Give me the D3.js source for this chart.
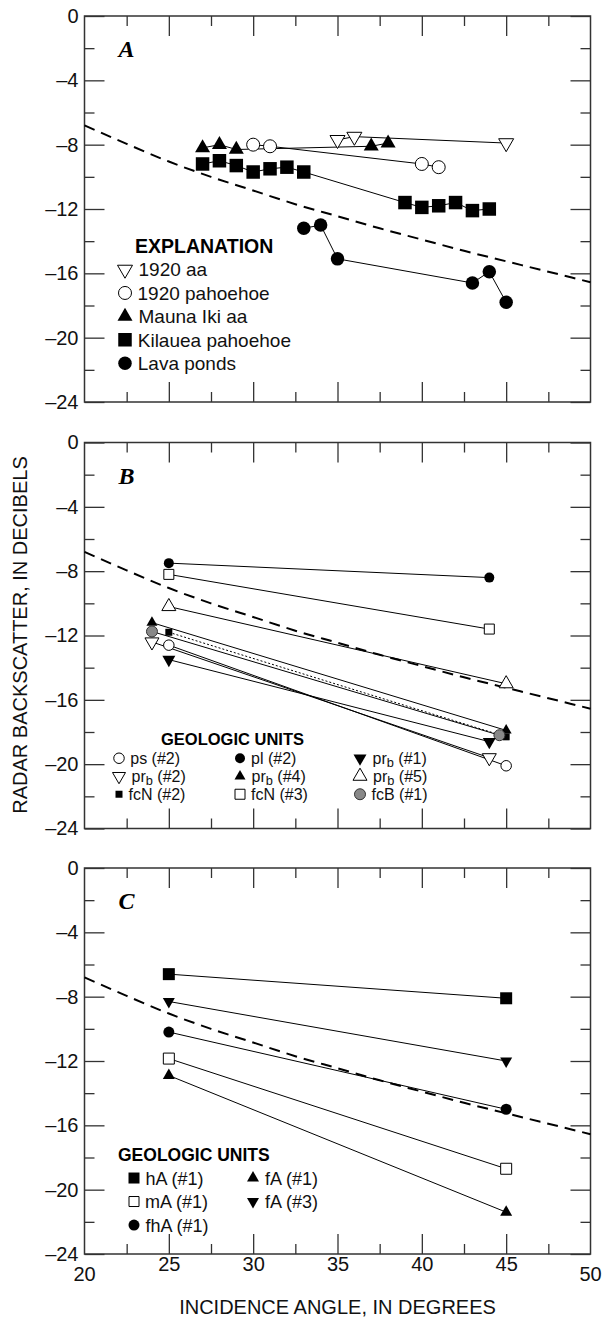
<!DOCTYPE html>
<html>
<head>
<meta charset="utf-8">
<script src="https://cdn.jsdelivr.net/npm/d3@7"></script>
<style>
  body { margin: 0; background: #fff; }
  svg { display: block; font-family: "Liberation Sans", Arial, sans-serif; }
</style>
</head>
<body>
<div id="chart"></div>
<script>
// axis ticks
const xMajor = [20, 25, 30, 35, 40, 45, 50];
const xMinor = [22.5, 27.5, 32.5, 37.5, 42.5, 47.5];
const yMajor = [0, -4, -8, -12, -16, -20, -24];
const yMinor = [-2, -6, -10, -14, -18, -22];

// dashed reference curve (same in every panel)
const refAngles = [20, 22.5, 25, 27.5, 30, 32.5, 35, 37.5, 40, 42.5, 45, 47.5, 50];
const refValues = [-6.8, -7.95, -9.05, -10.0, -10.85, -11.7, -12.45, -13.2, -13.9, -14.6, -15.25, -15.9, -16.55];

// panel A  [angle, dB]
const aa1920 = [[35, -7.7], [36, -7.5], [45, -7.9]];
const pahoehoe1920 = [[30, -8.0], [31, -8.1], [40, -9.2], [41, -9.4]];
const maunaIkiAa = [[27, -8.2], [28, -8.0], [29, -8.3], [37, -8.1], [38, -7.9]];
const kilaueaPahoehoe = [[27, -9.2], [28, -9.0], [29, -9.3], [30, -9.7], [31, -9.5], [32, -9.4], [33, -9.7],
  [39, -11.6], [40, -11.9], [41, -11.8], [42, -11.6], [43, -12.1], [44, -12.0]];
const lavaPonds = [[33, -13.2], [34, -13.0], [35, -15.1], [43, -16.6], [44, -15.9], [45, -17.8]];

// panel B
const ps2 = [[25, -12.6], [45, -20.1]];
const pl2 = [[25, -7.5], [44, -8.4]];
const prb1 = [[25, -13.5], [44, -18.6]];
const prb2 = [[24, -12.4], [44, -19.6]];
const prb4 = [[24, -11.2], [45, -17.9]];
const prb5 = [[25, -10.2], [45, -15.0]];
const fcN2 = [[25, -11.8], [45, -18.3]];
const fcN3 = [[25, -8.2], [44, -11.6]];
const fcB1 = [[24, -11.75], [44.6, -18.2]];

// panel C
const hA1 = [[25, -6.6], [45, -8.1]];
const mA1 = [[25, -11.85], [45, -18.7]];
const fhA1 = [[25, -10.2], [45, -15.0]];
const fA1 = [[25, -12.9], [45, -21.4]];
const fA3 = [[25, -8.3], [45, -12.0]];

const width = 604,
  height = 1319;

const left = 84.5,
  right = 590.5,
  panelH = 386;
const panelTops = [16, 442.5, 868];

const x = d3.scaleLinear().domain([20, 50]).range([left, right]);

const svg = d3.select('#chart').append('svg').attr('width', width).attr('height', height);

const fmt = d => (d === 0 ? '0' : '\u2013' + Math.abs(d));

const shapes = {
  circle: d3.symbolCircle,
  square: d3.symbolSquare,
  up: d3.symbolTriangle,
  down: d3.symbolTriangle
};

function symbolSize(shape, s) {
  if (shape === 'circle') return Math.PI * (s / 2) * (s / 2);
  if (shape === 'square') return s * s;
  return (Math.sqrt(3) / 4) * s * s;
}

function drawMarker(g, m, cx, cy) {
  g.append('path')
    .attr('d', d3.symbol().type(shapes[m.shape]).size(symbolSize(m.shape, m.size))())
    .attr('transform', `translate(${cx},${cy})` + (m.shape === 'down' ? ' rotate(180)' : ''))
    .attr('fill', m.fill)
    .attr('stroke', m.fill === 'white' ? '#000' : m.fill === 'black' ? 'none' : '#333')
    .attr('stroke-width', 1);
}

const panels = [
  {
    letter: 'A',
    series: [
      { data: aa1920, shape: 'down', fill: 'white', size: 15 },
      { data: pahoehoe1920, shape: 'circle', fill: 'white', size: 13 },
      { data: maunaIkiAa, shape: 'up', fill: 'black', size: 15 },
      { data: kilaueaPahoehoe, shape: 'square', fill: 'black', size: 13.5 },
      { data: lavaPonds, shape: 'circle', fill: 'black', size: 13.5 }
    ],
    legend: {
      title: 'EXPLANATION', tx: 135, ty: 253, font: 19, titleFont: 19.5, step: 23.4, shift: 0,
      rows: [
        [{ label: ['1920 aa'], shape: 'down', fill: 'white', size: 15, x: 125 }],
        [{ label: ['1920 pahoehoe'], shape: 'circle', fill: 'white', size: 13, x: 125 }],
        [{ label: ['Mauna Iki aa'], shape: 'up', fill: 'black', size: 15, x: 125 }],
        [{ label: ['Kilauea pahoehoe'], shape: 'square', fill: 'black', size: 13.5, x: 125 }],
        [{ label: ['Lava ponds'], shape: 'circle', fill: 'black', size: 13.5, x: 125 }]
      ]
    }
  },
  {
    letter: 'B',
    series: [
      { data: pl2, shape: 'circle', fill: 'black', size: 10 },
      { data: fcN3, shape: 'square', fill: 'white', size: 10 },
      { data: prb5, shape: 'up', fill: 'white', size: 14 },
      { data: prb4, shape: 'up', fill: 'black', size: 11 },
      { data: fcN2, shape: 'square', fill: 'black', size: 7, dotted: true },
      { data: fcB1, shape: 'circle', fill: '#888', size: 11 },
      { data: prb2, shape: 'down', fill: 'white', size: 14 },
      { data: ps2, shape: 'circle', fill: 'white', size: 10.5 },
      { data: prb1, shape: 'down', fill: 'black', size: 13 }
    ],
    legend: {
      title: 'GEOLOGIC UNITS', tx: 161, ty: 745, font: 16, titleFont: 16.5, step: 18, shift: 1,
      rows: [
        [
          { label: ['ps (#2)'], shape: 'circle', fill: 'white', size: 10.5, x: 119 },
          { label: ['pl (#2)'], shape: 'circle', fill: 'black', size: 10, x: 240 },
          { label: ['pr', 'b', ' (#1)'], shape: 'down', fill: 'black', size: 13, x: 360 }
        ],
        [
          { label: ['pr', 'b', ' (#2)'], shape: 'down', fill: 'white', size: 13, x: 119 },
          { label: ['pr', 'b', ' (#4)'], shape: 'up', fill: 'black', size: 11, x: 240 },
          { label: ['pr', 'b', ' (#5)'], shape: 'up', fill: 'white', size: 14, x: 360 }
        ],
        [
          { label: ['fcN (#2)'], shape: 'square', fill: 'black', size: 7, x: 119 },
          { label: ['fcN (#3)'], shape: 'square', fill: 'white', size: 10, x: 240 },
          { label: ['fcB (#1)'], shape: 'circle', fill: '#888', size: 11, x: 360 }
        ]
      ]
    }
  },
  {
    letter: 'C',
    series: [
      { data: hA1, shape: 'square', fill: 'black', size: 12 },
      { data: fA3, shape: 'down', fill: 'black', size: 12 },
      { data: fhA1, shape: 'circle', fill: 'black', size: 11 },
      { data: mA1, shape: 'square', fill: 'white', size: 11 },
      { data: fA1, shape: 'up', fill: 'black', size: 12 }
    ],
    legend: {
      title: 'GEOLOGIC UNITS', tx: 118, ty: 1161, font: 18, titleFont: 17.5, step: 23.5, shift: 0,
      rows: [
        [
          { label: ['hA (#1)'], shape: 'square', fill: 'black', size: 11, x: 134 },
          { label: ['fA (#1)'], shape: 'up', fill: 'black', size: 12, x: 253 }
        ],
        [
          { label: ['mA (#1)'], shape: 'square', fill: 'white', size: 10, x: 134 },
          { label: ['fA (#3)'], shape: 'down', fill: 'black', size: 12, x: 253 }
        ],
        [
          { label: ['fhA (#1)'], shape: 'circle', fill: 'black', size: 11, x: 134 }
        ]
      ]
    }
  }
];

panels.forEach((p, i) => {
  const top = panelTops[i];
  const y = d3.scaleLinear().domain([0, -24]).range([top, top + panelH]);
  const g = svg.append('g');

  // ticks, all pointing inward
  const tickStyle = sel => {
    sel.select('.domain').remove();
    sel.selectAll('line').attr('stroke', '#333').attr('stroke-width', 1.3);
  };
  const axes = [
    [d3.axisLeft(y).tickValues(yMajor).tickSize(-20).tickPadding(6).tickFormat(fmt), `translate(${left},0)`],
    [d3.axisLeft(y).tickValues(yMinor).tickSize(-10).tickFormat(''), `translate(${left},0)`],
    [d3.axisRight(y).tickValues(yMajor).tickSize(-20).tickFormat(''), `translate(${right},0)`],
    [d3.axisRight(y).tickValues(yMinor).tickSize(-10).tickFormat(''), `translate(${right},0)`],
    [d3.axisTop(x).tickValues(xMajor.slice(1, -1)).tickSize(-20).tickFormat(''), `translate(0,${top})`],
    [d3.axisTop(x).tickValues(xMinor).tickSize(-10).tickFormat(''), `translate(0,${top})`],
    [d3.axisBottom(x).tickValues(xMajor.slice(1, -1)).tickSize(-20).tickFormat(i === 2 ? null : ''), `translate(0,${top + panelH})`],
    [d3.axisBottom(x).tickValues(xMinor).tickSize(-10).tickFormat(''), `translate(0,${top + panelH})`]
  ];
  axes.forEach(([ax, tr]) => {
    const a = g.append('g').attr('transform', tr).call(ax).call(tickStyle);
    a.selectAll('text').attr('font-size', 20).attr('fill', '#111').attr('font-family', '"Liberation Sans", Arial, sans-serif');
  });
  if (i === 2) {
    g.append('g')
      .attr('transform', `translate(0,${top + panelH})`)
      .selectAll('text')
      .data([20, 50])
      .join('text')
      .attr('x', d => x(d))
      .attr('y', 27)
      .attr('text-anchor', 'middle')
      .attr('font-size', 20)
      .attr('fill', '#111')
      .text(d => d);
  }

  g.append('rect')
    .attr('x', left)
    .attr('y', top)
    .attr('width', right - left)
    .attr('height', panelH)
    .attr('fill', 'none')
    .attr('stroke', '#333')
    .attr('stroke-width', 1.5);

  g.append('text')
    .attr('x', left + 34)
    .attr('y', top + 41)
    .attr('font-family', '"Liberation Serif", "Times New Roman", serif')
    .attr('font-weight', 'bold')
    .attr('font-style', 'italic')
    .attr('font-size', 24)
    .text(p.letter);

  // dashed reference curve
  const refLine = d3.line().x(d => x(d[0])).y(d => y(d[1])).curve(d3.curveMonotoneX);
  g.append('path')
    .attr('d', refLine(refAngles.map((a, k) => [a, refValues[k]])))
    .attr('fill', 'none')
    .attr('stroke', '#000')
    .attr('stroke-width', 2)
    .attr('stroke-dasharray', '11,7');

  const line = d3.line().x(d => x(d[0])).y(d => y(d[1]));
  p.series.forEach(s => {
    g.append('path')
      .attr('d', line(s.data))
      .attr('fill', 'none')
      .attr('stroke', '#000')
      .attr('stroke-width', 1)
      .attr('stroke-dasharray', s.dotted ? '2,2' : null);
  });
  p.series.forEach(s => {
    s.data.forEach(d => drawMarker(g, s, x(d[0]), y(d[1])));
  });

  // legend
  const L = p.legend;
  g.append('text')
    .attr('x', L.tx)
    .attr('y', L.ty)
    .attr('font-size', L.titleFont)
    .attr('font-weight', 'bold')
    .text(L.title);
  L.rows.forEach((row, r) => {
    const by = L.ty + L.step * (r + 1) + L.shift;
    row.forEach(item => {
      drawMarker(g, item, item.x, by - L.font * 0.36);
      const t = g.append('text')
        .attr('x', item.x + item.size / 2 + 6)
        .attr('y', by)
        .attr('font-size', L.font)
        .attr('fill', '#111');
      t.append('tspan').text(item.label[0]);
      if (item.label.length > 1) {
        t.append('tspan').attr('font-size', L.font * 0.8).attr('dy', 3).text(item.label[1]);
        t.append('tspan').attr('dy', -3).text(item.label[2]);
      }
    });
  });
});

// axis titles
svg.append('text')
  .attr('transform', `translate(27,${(panelTops[0] + panelTops[2] + panelH) / 2}) rotate(-90)`)
  .attr('text-anchor', 'middle')
  .attr('font-size', 20)
  .attr('fill', '#111')
  .text('RADAR BACKSCATTER, IN DECIBELS');

svg.append('text')
  .attr('x', (left + right) / 2)
  .attr('y', 1314)
  .attr('text-anchor', 'middle')
  .attr('font-size', 20)
  .attr('fill', '#111')
  .text('INCIDENCE ANGLE, IN DEGREES');
</script>
</body>
</html>
